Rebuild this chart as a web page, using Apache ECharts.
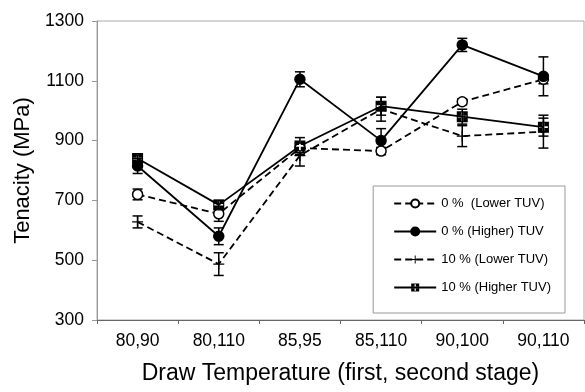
<!DOCTYPE html>
<html>
<head>
<meta charset="utf-8">
<script src="https://cdn.jsdelivr.net/npm/echarts@6/dist/echarts.min.js"></script>
<style>
  html, body { margin: 0; padding: 0; background: #fff; }
  #chart { width: 585px; height: 392px; }
</style>
</head>
<body>
<div id="chart"></div>
<script>
// categories (draw temperature, first/second stage)
const categories = ['80,90', '80,110', '85,95', '85,110', '90,100', '90,110']
const yTicks = [300, 500, 700, 900, 1100, 1300]

// tenacity means (MPa) and error bar half-widths
const lower0 = [720, 655, 875, 865, 1030, 1105]
const lower0Err = [18, 25, 15, 12, 10, 15]
const higher0 = [815, 580, 1105, 900, 1220, 1115]
const higher0Err = [25, 28, 25, 40, 22, 65]
const lower10 = [628, 487, 850, 1005, 915, 930]
const lower10Err = [20, 38, 35, 40, 35, 55]
const higher10 = [840, 685, 882, 1015, 980, 945]
const higher10Err = [12, 15, 28, 30, 25, 30]

const names = ['0 %  (Lower TUV)', '0 % (Higher) TUV', '10 % (Lower TUV)', '10 % (Higher TUV)']

const FONT = 'Liberation Sans'
// square with a white plus cut out of it
const squarePlus = 'path://M0,0H10V10H0Z M4.2,1V4.2H1V5.8H4.2V9H5.8V5.8H9V4.2H5.8V1Z'
const plusMark = 'path://M4.4,0H5.6V4.4H10V5.6H5.6V10H4.4V5.6H0V4.4H4.4Z'

function errData (vals, errs) {
  return vals.map((v, i) => [i, v - errs[i], v + errs[i]])
}

function errSeries (vals, errs) {
  return {
    type: 'custom',
    silent: true,
    z: 1,
    data: errData(vals, errs),
    renderItem (params, api) {
      const lo = api.coord([api.value(0), api.value(1)])
      const hi = api.coord([api.value(0), api.value(2)])
      const w = 5
      const st = { stroke: '#000', lineWidth: 1.5 }
      return {
        type: 'group',
        children: [
          { type: 'line', shape: { x1: lo[0], y1: lo[1], x2: hi[0], y2: hi[1] }, style: st },
          { type: 'line', shape: { x1: lo[0] - w, y1: lo[1], x2: lo[0] + w, y2: lo[1] }, style: st },
          { type: 'line', shape: { x1: hi[0] - w, y1: hi[1], x2: hi[0] + w, y2: hi[1] }, style: st },
        ],
      }
    },
  }
}

function lineSeries (name, data, dashed, symbol, size, fill) {
  return {
    name: name,
    type: 'line',
    data: data,
    z: 3,
    symbol: symbol,
    symbolSize: size,
    showAllSymbol: true,
    lineStyle: { color: '#000', width: 1.8, type: dashed ? [7, 4] : 'solid' },
    itemStyle: { color: fill, borderColor: '#000', borderWidth: symbol === 'circle' ? 1.5 : 0 },
    emphasis: { disabled: true },
  }
}

const chart = echarts.init(document.getElementById('chart'), null, { renderer: 'canvas' })
const option = {
  animation: false,
  backgroundColor: '#fff',
  textStyle: { fontFamily: FONT },
  grid: { left: 97, right: 1, top: 21, bottom: 72, show: true, borderColor: '#aaa', borderWidth: 1 },
  legend: {
    data: names,
    orient: 'vertical',
    right: 20,
    top: 186,
    padding: [11, 14, 19, 20],
    itemGap: 15,
    itemWidth: 42,
    itemHeight: 10,
    backgroundColor: '#fff',
    borderColor: '#999',
    borderWidth: 1,
    borderRadius: 0,
    textStyle: { fontFamily: FONT, fontSize: 13, color: '#000' },
  },
  xAxis: {
    type: 'category',
    data: categories,
    boundaryGap: true,
    name: 'Draw Temperature (first, second stage)',
    nameLocation: 'middle',
    nameGap: 42,
    nameTextStyle: { fontFamily: FONT, fontSize: 23, color: '#000' },
    axisLine: { lineStyle: { color: '#666', width: 1 } },
    axisTick: { show: true, length: 4, lineStyle: { color: '#666' } },
    axisLabel: { fontFamily: FONT, fontSize: 17.5, color: '#000', margin: 12 },
  },
  yAxis: {
    type: 'value',
    min: yTicks[0],
    max: yTicks[yTicks.length - 1],
    interval: 200,
    name: 'Tenacity (MPa)',
    nameLocation: 'middle',
    nameRotate: 90,
    nameGap: 63,
    nameTextStyle: { fontFamily: FONT, fontSize: 22, color: '#000' },
    axisLine: { show: true, lineStyle: { color: '#999', width: 1 } },
    axisTick: { show: true, length: 5, lineStyle: { color: '#999' } },
    axisLabel: { fontFamily: FONT, fontSize: 17.5, color: '#000', margin: 13, formatter: (v) => String(v) },
    splitLine: { show: false },
  },
  series: [
    errSeries(lower0, lower0Err),
    errSeries(higher0, higher0Err),
    errSeries(lower10, lower10Err),
    errSeries(higher10, higher10Err),
    lineSeries(names[0], lower0, true, 'circle', 10, '#fff'),
    lineSeries(names[1], higher0, false, 'circle', 10, '#000'),
    lineSeries(names[2], lower10, true, plusMark, 11, '#000'),
    lineSeries(names[3], higher10, false, squarePlus, 11, '#000'),
  ],
}
option && chart.setOption(option)
</script>
</body>
</html>
